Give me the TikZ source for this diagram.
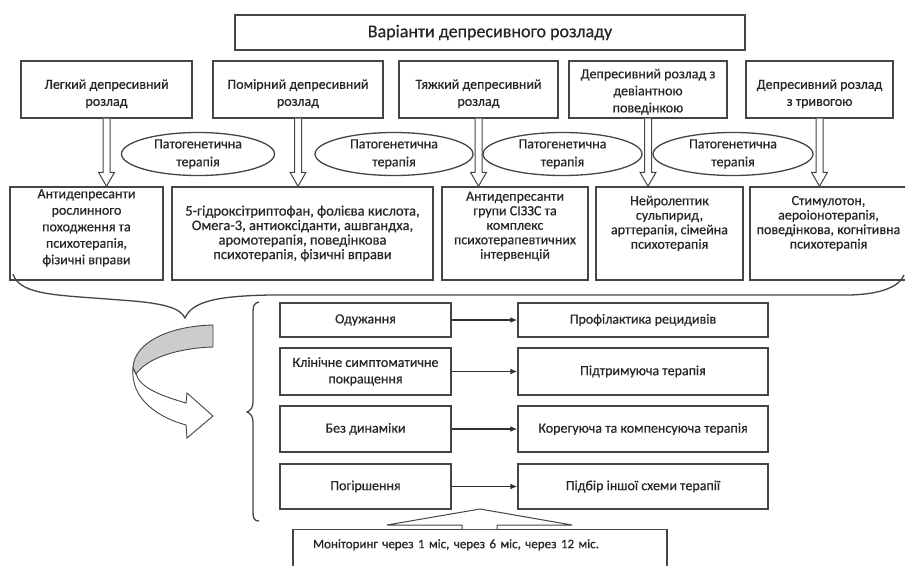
\documentclass[tikz,border=0pt]{standalone}
\usepackage{fontspec}
\setmainfont{Carlito}[FakeBold=0.5]
\usetikzlibrary{shapes.geometric,calc,arrows.meta}
\definecolor{ln}{HTML}{454545}
\definecolor{tx}{HTML}{262626}
\newcommand\fsA{\fontsize{14}{17}\selectfont}
\newcommand\fsB{\fontsize{14}{14.5}\selectfont}
\newcommand\fsBB{\fontsize{14.5}{14.5}\selectfont}
\newcommand\fsC{\fontsize{14}{16.5}\selectfont}
\newcommand\fsE{\fontsize{14}{18}\selectfont}
\newcommand\fsM{\fontsize{13}{16}\selectfont}
\newcommand\fsT{\fontsize{18}{20}\selectfont}
\tikzset{
  box/.style={draw=ln, line width=1.4pt, rectangle, inner sep=2pt, align=center, text=tx},
  ell/.style={draw=ln, line width=1.3pt, ellipse, inner sep=0pt, align=center, text=tx, font=\fsE},
  arrline/.style={draw=ln, line width=1pt, fill=white, line join=miter},
  conn/.style={draw=ln!70!black, line width=1.4pt, -{Latex[length=7pt,width=6pt]}},
  curly/.style={draw=ln, line width=1.3pt},
}
\newcommand{\tikzopenarrow}[2]{%
  \draw[arrline] ($(#1)+(-3.5,0)$) -- ($(#1 |- #2)+(-3.5,-14)$) -- ($(#1 |- #2)+(-8,-14)$)
   -- (#1 |- #2) -- ($(#1 |- #2)+(8,-14)$) -- ($(#1 |- #2)+(3.5,-14)$) -- ($(#1)+(3.5,0)$);}
\begin{document}
\begin{tikzpicture}[x=1pt,y=-1pt]
\useasboundingbox (0,0) rectangle (905,565);
\fill[white] (0,0) rectangle (905,565);

% title
\node[box, font=\fsT, minimum width=510pt, minimum height=35pt] (title) at (490,32.5) {Варіанти депресивного розладу};

% row 1
\node[box, font=\fsA, minimum width=171pt, minimum height=57pt] (b1) at (106.5,89.5) {\mbox{}\\[1pt]Легкий депресивний\\розлад};
\node[box, font=\fsA, minimum width=170pt, minimum height=57pt] (b2) at (298,89.5) {\mbox{}\\[1pt]Помірний депресивний\\розлад};
\node[box, font=\fsA, minimum width=159pt, minimum height=57pt] (b3) at (478.5,89.5) {\mbox{}\\[1pt]Тяжкий депресивний\\розлад};
\node[box, font=\fsA, minimum width=158pt, minimum height=57pt] (b4) at (648,89.5) {\mbox{}\\[-3pt]Депресивний розлад з\\девіантною\\поведінкою};
\node[box, font=\fsA, minimum width=147pt, minimum height=57pt] (b5) at (819.5,89.5) {\mbox{}\\[1pt]Депресивний розлад\\з тривогою};

% row 2
\node[box, font=\fsC, minimum width=153pt, minimum height=93pt] (rA) at (86.5,233.5) {Антидепресанти\\рослинного\\походження та\\психотерапія,\\фізичні вправи\\[-3pt]\mbox{}};
\node[box, font=\fsBB, minimum width=261pt, minimum height=93pt] (rB) at (302.5,233.5) {5-гідроксітриптофан, фолієва кислота,\\Омега-3, антиоксіданти, ашвгандха,\\аромотерапія, поведінкова\\психотерапія, фізичні вправи};
\node[box, font=\fsB, minimum width=146pt, minimum height=93pt] (rC) at (515,233.5) {Антидепресанти\\групи СІЗЗС та\\комплекс\\психотерапевтичних\\інтервенцій\\[2pt]\mbox{}};
\node[box, font=\fsB, minimum width=147pt, minimum height=93pt] (rD) at (669.5,233.5) {Нейролептик\\сульпирид,\\арттерапія, сімейна\\психотерапія\\[8pt]\mbox{}};
\node[box, font=\fsB, minimum width=157pt, minimum height=93pt] (rE) at (828.5,233.5) {Стимулотон,\\аероіонотерапія,\\поведінкова, когнітивна\\психотерапія\\[8pt]\mbox{}};

% ellipses
\node[ell, minimum width=153pt, minimum height=43pt] (e1) at (198,154) {Патогенетична\\терапія};
\node[ell, minimum width=158pt, minimum height=43pt] (e2) at (394,154) {Патогенетична\\терапія};
\node[ell, minimum width=159pt, minimum height=43pt] (e3) at (562.5,154) {Патогенетична\\терапія};
\node[ell, minimum width=160pt, minimum height=43pt] (e4) at (733,154) {Патогенетична\\терапія};

% open arrows
\tikzopenarrow{b1.south}{rA.north}
\tikzopenarrow{b2.south}{rB.north}
\tikzopenarrow{b3.south}{rC.north}
\tikzopenarrow{b4.south}{rD.north}
\tikzopenarrow{b5.south}{rE.north}

% horizontal brace
\draw[curly] (13,274) .. controls (20,296) and (60,295) .. (120,300)
  .. controls (165,303) and (180,308) .. (185,318)
  .. controls (192,302) and (215,296) .. (270,295) -- (850,295)
  .. controls (885,294) and (900,285) .. (904,275);

% U-turn arrow
\draw[draw=ln, line width=0.9pt, fill=gray!40] (213,325) .. controls (170,326) and (134,342) .. (133,368)
  -- (136,374) .. controls (148,357) and (180,348) .. (213,347) -- cycle;
\draw[draw=ln, line width=0.9pt, fill=white, line join=miter] (133,368) .. controls (130,400) and (160,418) .. (186,425)
  -- (187,438) -- (213,416) -- (187,393) -- (186,403)
  .. controls (162,396) and (140,388) .. (136,374) -- cycle;

% vertical brace
\draw[curly] (259,302) .. controls (254,303) and (253,306) .. (253,312) -- (253,402)
  .. controls (253,408) and (250,411) .. (247,412)
  .. controls (250,413) and (253,416) .. (253,422) -- (253,512)
  .. controls (253,518) and (254,521) .. (259,521);

% bottom boxes
\node[box, font=\fsC, minimum width=171pt, minimum height=34pt] (l1) at (365.5,320) {Одужання};
\node[box, font=\fsC, minimum width=171pt, minimum height=47pt] (l2) at (365.5,371.5) {Клінічне симптоматичне\\покращення};
\node[box, font=\fsC, minimum width=171pt, minimum height=46pt] (l3) at (365.5,429) {Без динаміки};
\node[box, font=\fsC, minimum width=171pt, minimum height=45pt] (l4) at (365.5,486.5) {Погіршення};
\node[box, font=\fsC, minimum width=250pt, minimum height=34pt] (r1) at (643,320) {Профілактика рецидивів};
\node[box, font=\fsC, minimum width=250pt, minimum height=47pt] (r2) at (643,371.5) {Підтримуюча терапія};
\node[box, font=\fsC, minimum width=250pt, minimum height=46pt] (r3) at (643,429) {Корегуюча та компенсуюча терапія};
\node[box, font=\fsC, minimum width=250pt, minimum height=45pt] (r4) at (643,486.5) {Підбір іншої схеми терапії};

\draw[conn] (l1) -- (r1);
\draw[conn] (l2) -- (r2);
\draw[conn] (l3) -- (r3);
\draw[conn] (l4) -- (r4);

% monitoring
\node[box, font=\fsM, anchor=north, minimum width=374pt, minimum height=46pt, text width=334pt, align=left, text depth=18pt] (mon) at (480,529) {Моніторинг через 1 міс, через 6 міс, через 12 міс.};
\draw[arrline] ($(mon.north)+(-18,0)$) -- ($(mon.north)+(-18,-4)$) -- ($(mon.north)+(-93,-4)$)
  -- ($(mon.north)+(0,-20)$) -- ($(mon.north)+(92,-4)$) -- ($(mon.north)+(17,-4)$) -- ($(mon.north)+(17,0)$);
\end{tikzpicture}
\end{document}
